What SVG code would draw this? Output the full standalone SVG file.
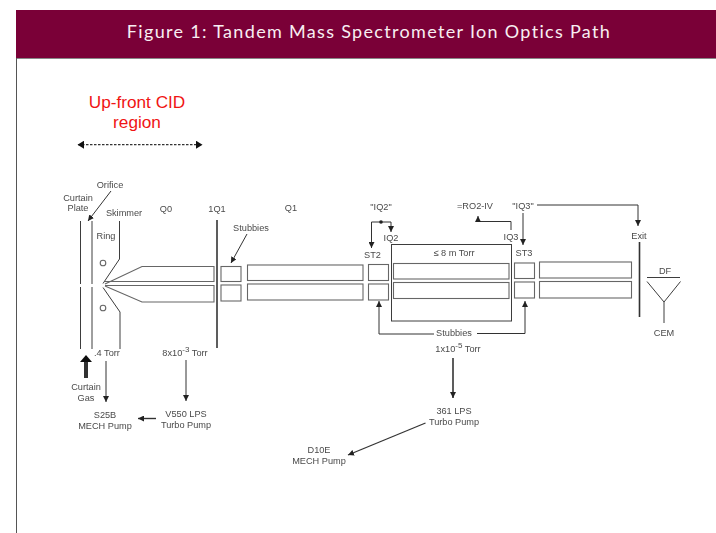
<svg xmlns="http://www.w3.org/2000/svg" width="716" height="533" viewBox="0 0 716 533">
<style>
text{font-family:"Liberation Sans",Arial,sans-serif;font-size:9.2px;fill:#4a4a4a;text-anchor:middle}
.title{font-family:Lato,"Open Sans",sans-serif;font-size:18px;fill:#f8eef2;letter-spacing:1.32px}
.red{font-size:17.2px;fill:#f01414}
.sup{font-size:8px}
.l{fill:none;stroke:#3c3c3c;stroke-width:1}
.w{fill:none;stroke:#333;stroke-width:1.6}
.r{fill:none;stroke:#666;stroke-width:1.1}
.c{fill:none;stroke:#333;stroke-width:1}
.a{fill:none;stroke:#333;stroke-width:1;marker-end:url(#ah)}
</style>
<defs>
<marker id="ah" markerWidth="7" markerHeight="6" refX="6" refY="3" orient="auto" markerUnits="userSpaceOnUse"><path d="M0 0L6 3L0 6z" fill="#222"/></marker>
<marker id="bh" markerWidth="7" markerHeight="8" refX="6" refY="4" orient="auto-start-reverse" markerUnits="userSpaceOnUse"><path d="M0 0L6.5 4L0 8z" fill="#111"/></marker>
<filter id="soft" x="-2%" y="-2%" width="104%" height="104%"><feGaussianBlur stdDeviation="0.35"/></filter>
</defs>
<rect width="716" height="533" fill="#fff"/>
<g id="header">
<rect x="16" y="10" width="700" height="48" fill="#7a0037"/>
<line x1="16" y1="58.500" x2="716" y2="58.500" stroke="#888"/>
<line x1="16.500" y1="58" x2="16.500" y2="533" stroke="#555"/>
<text class="title" x="369" y="38">Figure 1: Tandem Mass Spectrometer Ion Optics Path</text>
</g>
<g id="cid-region">
<text class="red" x="137" y="108">Up-front CID</text>
<text class="red" x="137" y="128">region</text>
<line x1="78" y1="144.700" x2="202" y2="144.700" stroke="#333" stroke-width="1.200" stroke-dasharray="2.500 1.500" marker-start="url(#bh)" marker-end="url(#bh)"/>
</g>
<g filter="url(#soft)">
<g id="connectors">
<path class="a" d="M111 191L88 221"/>
<path class="a" d="M247 234L231 263"/>
<path class="c" d="M86 378V360" style="stroke-width:4"/>
<path d="M80 362L86 355L92 362z" fill="#111"/>
<path class="a" d="M106 361V402"/>
<path class="a" d="M186 360V401"/>
<path class="a" d="M156 418.500H138" style="stroke-width:1.400"/>
<path class="a" d="M453 358V398" style="stroke-width:1.600"/>
<path class="a" d="M425.500 423L348 455" style="stroke-width:1.200"/>
<path class="c" d="M371.500 247V222H391"/><path class="a" d="M371.500 222V248"/><path class="a" d="M391 222V232"/>
<circle cx="381" cy="222" r="1.800" fill="#222"/>
<path class="a" d="M511 230V221.500H478V216"/>
<path class="a" d="M523 213V245"/>
<path class="a" d="M537 205H638V226"/>
<path class="c" d="M434 334H379"/><path class="a" d="M379 334V301"/>
<path class="c" d="M477 333.500H525"/><path class="a" d="M525 333.500V301"/>
</g>
<g id="curtain-plate"><path class="l" d="M80.500 221V284M80.500 287V349"/><text x="78" y="200.500">Curtain</text><text x="78" y="211">Plate</text></g>
<g id="orifice"><path class="l" d="M92 221V284M92 287V349"/><text x="110" y="188">Orifice</text></g>
<g id="skimmer"><path class="l" d="M119.500 221V259L103 283.500M103 287.500L120 312V349"/><text x="124" y="216">Skimmer</text></g>
<g id="ring"><circle cx="103" cy="263" r="2.800" class="r"/><circle cx="103" cy="308" r="2.800" class="r"/><text x="106" y="239">Ring</text></g>
<g id="q0"><path class="r" d="M105 284L142 266.500H214V281.500H105"/><path class="r" d="M105 285.500H214V302H142L105 286"/><text x="166" y="212">Q0</text></g>
<g id="iq1"><line x1="217" y1="220" x2="217" y2="348" class="w"/><text x="217" y="212">1Q1</text></g>
<g id="stubbies-1"><rect class="r" x="221" y="266.500" width="20" height="15"/><rect class="r" x="221" y="285" width="20" height="16"/><text x="251" y="231">Stubbies</text></g>
<g id="q1"><rect class="r" x="247.500" y="265" width="115.500" height="15.500"/><rect class="r" x="247.500" y="284" width="115.500" height="16"/><text x="291" y="211">Q1</text></g>
<g id="st2"><rect class="r" x="368.500" y="264.500" width="20" height="16"/><rect class="r" x="368.500" y="284" width="20" height="16"/><text x="372.500" y="257.500">ST2</text></g>
<g id="iq2-label"><text x="381" y="210">"IQ2"</text><text x="391" y="240.500">IQ2</text></g>
<g id="q2"><rect class="l" x="391.500" y="244.500" width="120" height="76.500"/><rect class="r" x="393.500" y="263.500" width="115.500" height="15.500"/><rect class="r" x="393.500" y="282.500" width="115.500" height="16"/><text x="454" y="256">≤ 8 m Torr</text></g>
<g id="ro2-iv"><text x="475" y="209">=RO2-IV</text></g>
<g id="iq3"><text x="511" y="240">IQ3</text><text x="523" y="209">"IQ3"</text></g>
<g id="st3"><rect class="r" x="514.500" y="263" width="20" height="15.500"/><rect class="r" x="514.500" y="282" width="20" height="16"/><text x="524" y="256">ST3</text></g>
<g id="q3"><rect class="r" x="539.500" y="262" width="92" height="16"/><rect class="r" x="539.500" y="281.500" width="92" height="16.500"/></g>
<g id="exit"><line x1="639.500" y1="242" x2="639.500" y2="317" class="w"/><text x="639" y="239">Exit</text></g>
<g id="detector"><path class="l" d="M647 277.500H680M647 281.500L664 302L680.500 281.500M664 302V323"/><text x="665" y="274">DF</text><text x="664" y="335.500">CEM</text></g>
<g id="stubbies-2"><text x="454" y="335.500">Stubbies</text><text x="458" y="352"><tspan>1x10</tspan><tspan class="sup" dy="-4">-5</tspan><tspan dy="4"> Torr</tspan></text></g>
<g id="pressure-1"><text x="107" y="355.500">.4 Torr</text></g>
<g id="pressure-2"><text x="185" y="355.500"><tspan>8x10</tspan><tspan class="sup" dy="-4">-3</tspan><tspan dy="4"> Torr</tspan></text></g>
<g id="curtain-gas"><text x="86" y="390">Curtain</text><text x="86" y="401">Gas</text></g>
<g id="s25b"><text x="105" y="418">S25B</text><text x="105" y="429">MECH Pump</text></g>
<g id="v550"><text x="186" y="417">V550 LPS</text><text x="186" y="428">Turbo Pump</text></g>
<g id="lps361"><text x="454" y="414">361 LPS</text><text x="454" y="425">Turbo Pump</text></g>
<g id="d10e"><text x="319" y="453">D10E</text><text x="319" y="464">MECH Pump</text></g>
</g>
</svg>
